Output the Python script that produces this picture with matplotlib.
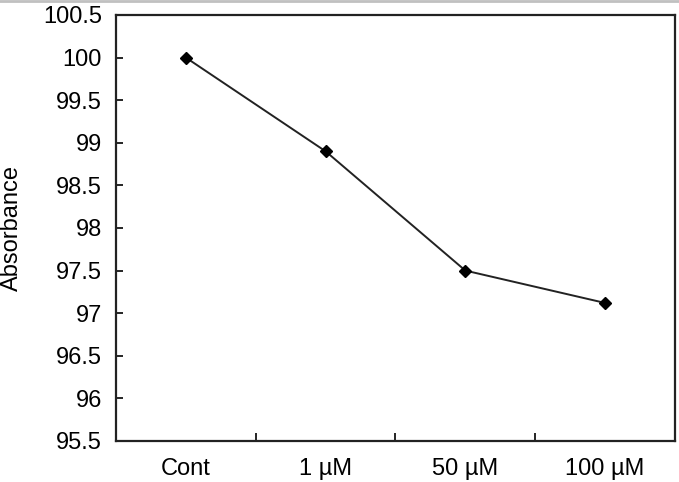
import matplotlib.pyplot as plt
from matplotlib.lines import Line2D
from matplotlib.ticker import FixedLocator, MultipleLocator

# dados
categorias = ["Cont", "1 µM", "50 µM", "100 µM"]
absorbancia = [100.0, 98.9, 97.5, 97.12]

plt.rcParams['font.family'] = ['Liberation Sans', 'DejaVu Sans']

fig = plt.figure(figsize=(6.79, 4.82), dpi=100)
ax = fig.add_axes([0.1708, 0.0851, 0.8233, 0.8838])

x = list(range(len(categorias)))
ax.plot(x, absorbancia, color='#222222', linewidth=1.4,
        marker='D', markersize=6.5, markerfacecolor='black', markeredgecolor='black')

ax.set_xlim(-0.5, len(categorias) - 0.5)
ax.set_ylim(95.5, 100.5)
ax.yaxis.set_major_locator(MultipleLocator(0.5))
ax.set_yticklabels([f"{v:g}" for v in ax.get_yticks()])

# rótulos no centro, marcas entre categorias
ax.set_xticks(x)
ax.set_xticklabels(categorias)
ax.xaxis.set_minor_locator(FixedLocator([i + 0.5 for i in x[:-1]]))
ax.tick_params(axis='x', which='major', length=0, labelsize=17, pad=12)
ax.tick_params(axis='x', which='minor', direction='in', length=6, width=1.2)
ax.tick_params(axis='y', direction='in', length=5, width=1.2, labelsize=17, pad=10)

for s in ax.spines.values():
    s.set_linewidth(1.6)
    s.set_color('#222222')

ax.set_ylabel("Absorbance", fontsize=17)
ax.yaxis.set_label_coords(-0.166, 0.5)

# borda cinza no topo da imagem
fig.add_artist(Line2D([0, 1], [0.997, 0.997], transform=fig.transFigure,
                      color='#c0c0c0', linewidth=2))

fig.savefig("out.png", dpi=100)
